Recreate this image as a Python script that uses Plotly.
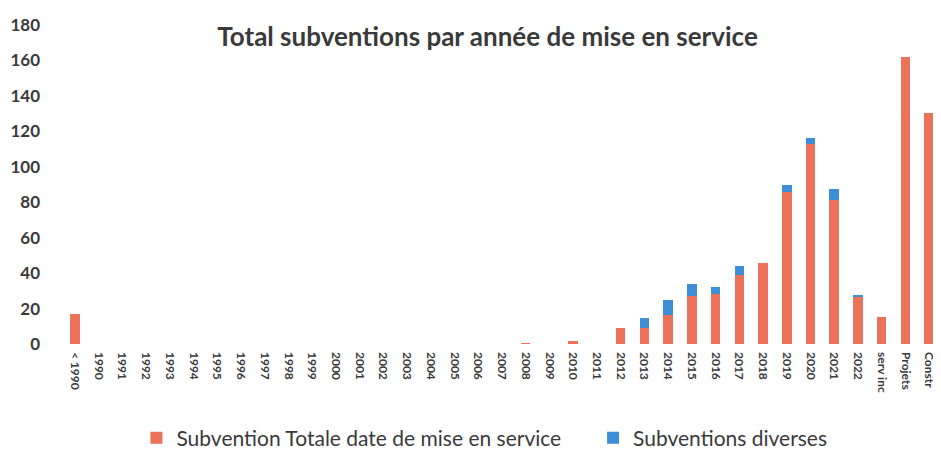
import plotly.graph_objects as go

categories = ["< 1990"] + [str(y) for y in range(1990, 2023)] + ["serv inc", "Projets", "Constr"]

subvention_totale = [17, 0, 0, 0, 0, 0, 0, 0, 0, 0, 0, 0, 0, 0, 0, 0, 0, 0, 0,
                     0.5, 0, 1.5, 0, 9, 9, 16.5, 27, 28, 39, 45.5, 86, 113, 81.5, 27,
                     15, 162, 130.5]
subventions_diverses = [0, 0, 0, 0, 0, 0, 0, 0, 0, 0, 0, 0, 0, 0, 0, 0, 0, 0, 0,
                        0, 0, 0, 0, 0, 5.7, 8.5, 7, 4, 5, 0, 3.5, 3, 6, 0.8,
                        0, 0, 0]

RED = "#EC7259"
BLUE = "#3F8FD6"
INK = "#3a3a3a"

# the page puts the figure 8px in from the top-left corner, so the
# figure is 8px smaller and every position below is shifted by 8px
fig = go.Figure()
fig.add_trace(go.Bar(
    name="Subvention Totale date de mise en service" + "\u00a0" * 5,
    x=categories, y=subvention_totale,
    marker=dict(color=RED, line=dict(width=0)),
))
fig.add_trace(go.Bar(
    name="Subventions diverses",
    x=categories, y=subventions_diverses,
    marker=dict(color=BLUE, line=dict(width=0)),
))

fig.update_layout(
    width=933, height=442,
    barmode="stack",
    bargap=0.6,
    paper_bgcolor="white",
    plot_bgcolor="white",
    font=dict(family="Lato", color=INK),
    margin=dict(l=55, r=0, t=17, b=106, autoexpand=False),
    title=dict(
        text="<b>Total subventions par année de mise en service</b>",
        x=0.514, xanchor="center", y=0.935, yanchor="middle",
        font=dict(size=26, color=INK),
    ),
    legend=dict(
        orientation="h", x=0.48, xanchor="center", y=-0.295, yanchor="middle",
        font=dict(size=21, color=INK),
        traceorder="normal", itemwidth=30,
    ),
)
fig.update_xaxes(
    type="category", range=[-0.5, 36.5], automargin=False,
    tickangle=90, showline=False, showgrid=False,
    tickfont=dict(size=12, weight="bold", color=INK), ticks="", ticklabelstandoff=7,
)
fig.update_yaxes(
    range=[0, 180], dtick=20, showgrid=False, zeroline=False, showline=False,
    automargin=False,
    tickfont=dict(size=17, weight="bold", color=INK), ticks="", ticklabelstandoff=22,
)

fig.write_html("out.html")
